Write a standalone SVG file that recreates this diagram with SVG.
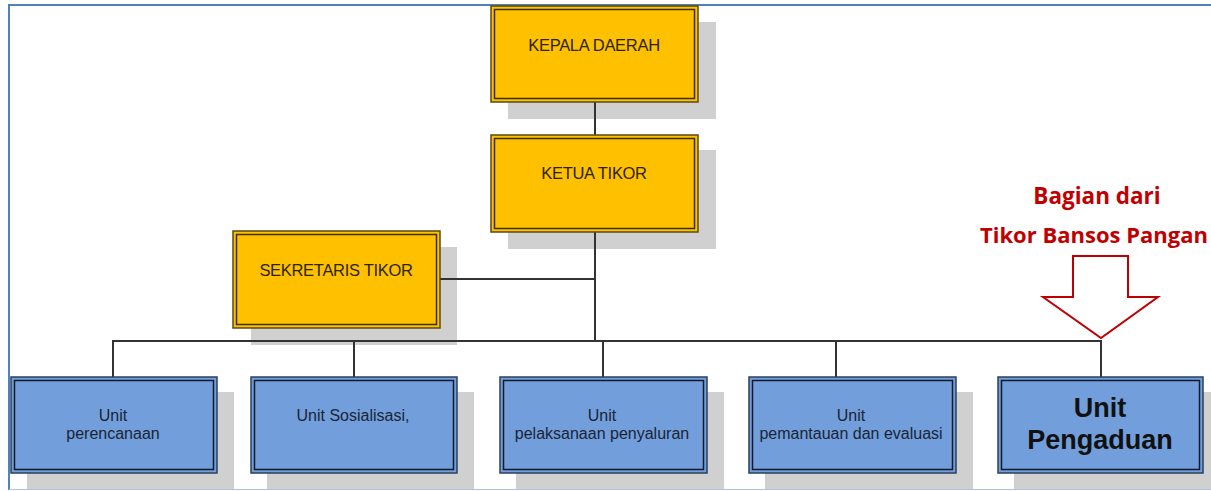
<svg xmlns="http://www.w3.org/2000/svg" width="1211" height="491" viewBox="0 0 1211 491">
<style>
.shadow{fill:#d0d0d0}
.y{fill:#ffc000;stroke:#5a4a10;stroke-width:1.5}
.yi{fill:none;stroke:#3a3008;stroke-width:1.5}
.b{fill:#729fdb;stroke:#2d3f5a;stroke-width:1.5}
.bi{fill:none;stroke:#111a28;stroke-width:1.5}
.t{font-family:"Liberation Sans",Arial,sans-serif;font-size:16.5px;fill:#2a2308;text-anchor:middle;letter-spacing:-0.3px}
.tb{font-family:"Liberation Sans",Arial,sans-serif;font-size:16px;fill:#1b2435;text-anchor:middle}
.conn{stroke:#333;stroke-width:2;fill:none}
.red{font-family:"Open Sans","Noto Sans",sans-serif;font-weight:bold;font-size:22.5px;fill:#c00000}
.big{font-family:"Liberation Sans",Arial,sans-serif;font-weight:bold;font-size:27px;fill:#111;text-anchor:middle}
</style>
<rect width="1211" height="491" fill="#fff"/>
<g id="frame">
<line x1="9" y1="5" x2="1211" y2="5" stroke="#4f81bd" stroke-width="2"/>
<line x1="9" y1="4" x2="9" y2="490" stroke="#4f81bd" stroke-width="2"/>
<line x1="9" y1="489.5" x2="1211" y2="489.5" stroke="#a8c4e6" stroke-width="1"/>
</g>
<g id="shadows">
<rect class="shadow" x="508" y="22" width="208" height="97"/>
<rect class="shadow" x="508" y="150" width="208" height="99"/>
<rect class="shadow" x="251" y="247" width="206" height="98"/>
<rect class="shadow" x="27" y="392" width="207" height="97"/>
<rect class="shadow" x="267" y="392" width="207" height="97"/>
<rect class="shadow" x="516" y="392" width="208" height="97"/>
<rect class="shadow" x="765" y="392" width="208" height="97"/>
<rect class="shadow" x="1014" y="392" width="197" height="97"/>
</g>
<g id="connectors">
<line class="conn" x1="595" y1="102" x2="595" y2="135"/>
<line class="conn" x1="595" y1="232" x2="595" y2="341"/>
<line class="conn" x1="440" y1="279" x2="595" y2="279"/>
<polyline class="conn" points="113,377 113,341 1101,341 1101,377"/>
<line class="conn" x1="354" y1="341" x2="354" y2="377"/>
<line class="conn" x1="603" y1="341" x2="603" y2="377"/>
<line class="conn" x1="836" y1="341" x2="836" y2="377"/>
</g>
<g id="kepala-daerah">
<rect class="y" x="491" y="6" width="207" height="96"/>
<rect class="yi" x="494.5" y="9.5" width="200" height="89"/>
<text class="t" x="594" y="51">KEPALA DAERAH</text>
</g>
<g id="ketua-tikor">
<rect class="y" x="491" y="135" width="207" height="97"/>
<rect class="yi" x="494.5" y="138.5" width="200" height="90"/>
<text class="t" x="594" y="179">KETUA TIKOR</text>
</g>
<g id="sekretaris-tikor">
<rect class="y" x="233" y="231" width="207" height="97"/>
<rect class="yi" x="236.5" y="234.5" width="200" height="90"/>
<text class="t" x="336" y="276">SEKRETARIS TIKOR</text>
</g>
<g id="unit-perencanaan">
<rect class="b" x="11" y="377" width="206" height="96"/>
<rect class="bi" x="14.5" y="380.5" width="199" height="89"/>
<text class="tb" x="113" y="421">Unit</text>
<text class="tb" x="113" y="439">perencanaan</text>
</g>
<g id="unit-sosialisasi">
<rect class="b" x="251" y="377" width="206" height="96"/>
<rect class="bi" x="254.5" y="380.5" width="199" height="89"/>
<text class="tb" x="353" y="421">Unit Sosialisasi,</text>
</g>
<g id="unit-pelaksanaan">
<rect class="b" x="500" y="377" width="207" height="96"/>
<rect class="bi" x="503.5" y="380.5" width="200" height="89"/>
<text class="tb" x="602" y="421">Unit</text>
<text class="tb" x="602" y="439">pelaksanaan penyaluran</text>
</g>
<g id="unit-pemantauan">
<rect class="b" x="749" y="377" width="207" height="96"/>
<rect class="bi" x="752.5" y="380.5" width="200" height="89"/>
<text class="tb" x="851" y="421">Unit</text>
<text class="tb" x="851" y="439">pemantauan dan evaluasi</text>
</g>
<g id="unit-pengaduan">
<rect class="b" x="998" y="377" width="205" height="96"/>
<rect class="bi" x="1001.5" y="380.5" width="198" height="89"/>
<text class="big" x="1100" y="417">Unit</text>
<text class="big" x="1100" y="449">Pengaduan</text>
</g>
<g id="annotation">
<text class="red" x="1097" y="204" text-anchor="middle">Bagian dari</text>
<text class="red" x="980" y="243" text-anchor="start" style="font-size:22px">Tikor Bansos Pangan</text>
<polygon points="1073,256 1128,256 1128,297 1158,297 1101,338 1043,297 1073,297" fill="#fff" stroke="#c00000" stroke-width="2"/>
</g>
</svg>
